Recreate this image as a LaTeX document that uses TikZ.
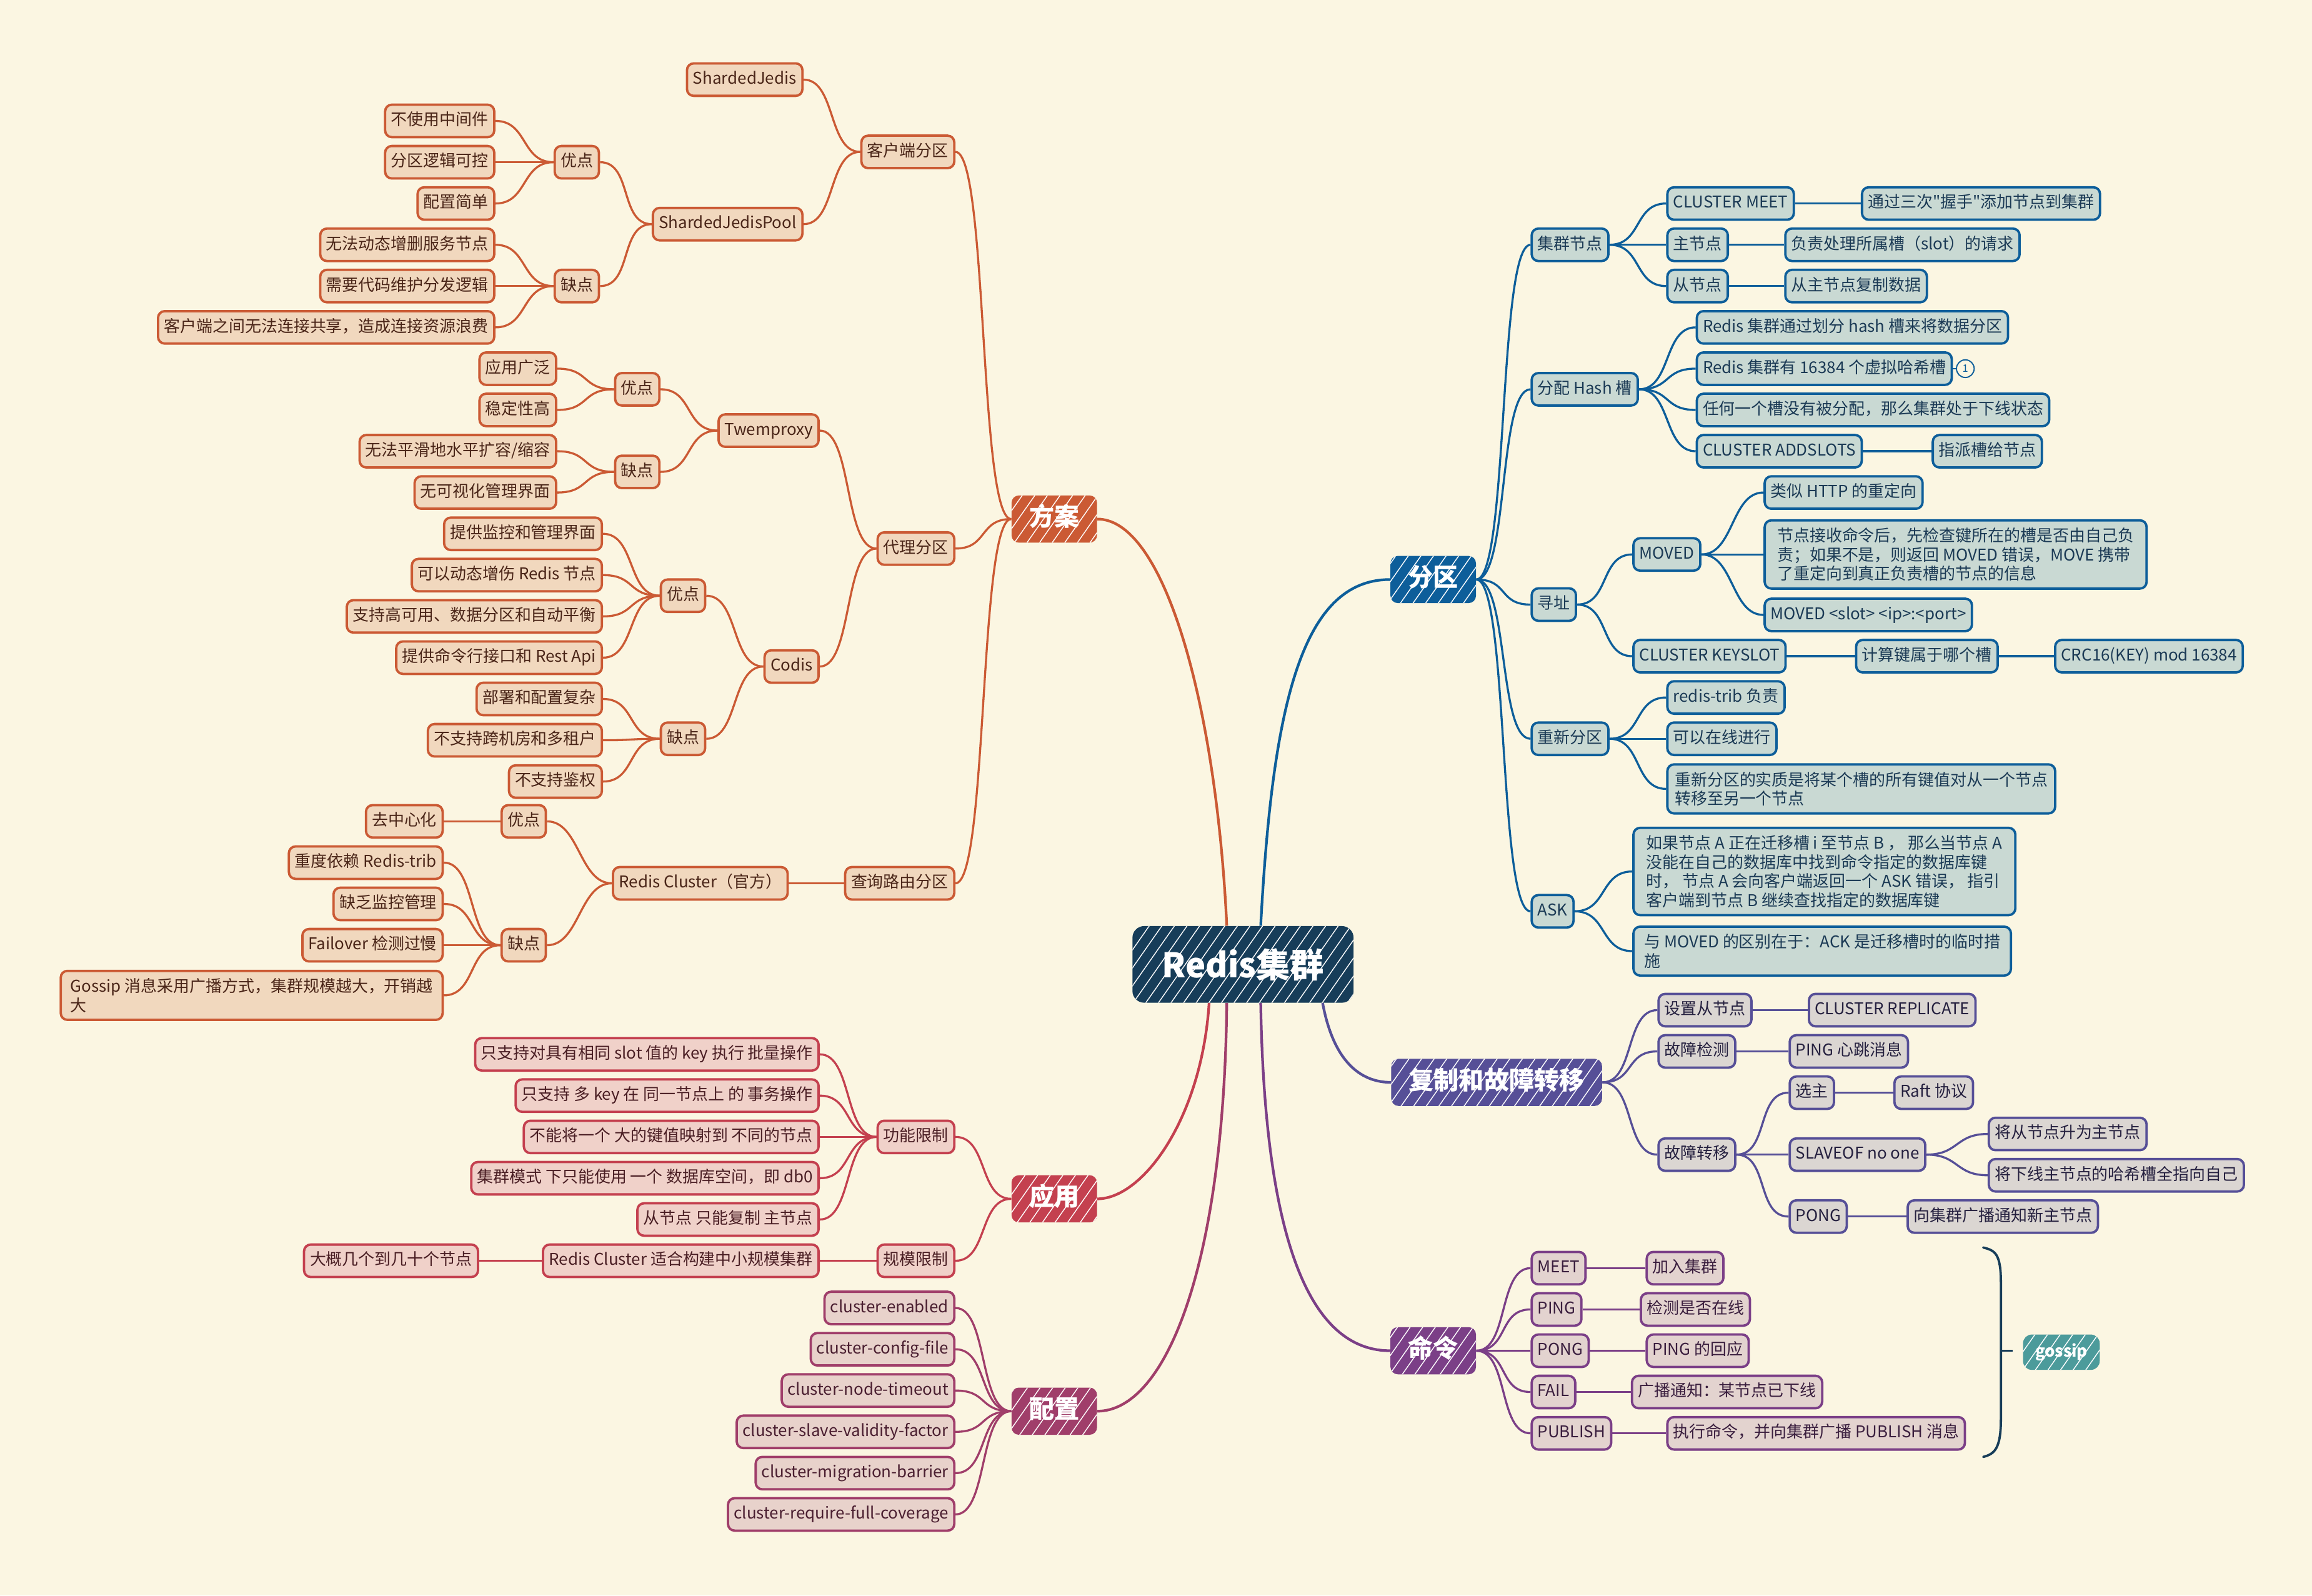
\documentclass[tikz,border=0pt]{standalone}
\usepackage{fontspec}
\setmainfont{Noto Sans CJK SC}
\newfontfamily\rawf{Noto Sans CJK SC}
\usetikzlibrary{patterns.meta}
\pgfdeclarelayer{bgl}
\pgfdeclarelayer{edges}
\pgfsetlayers{bgl,edges,main}
\definecolor{bgc}{HTML}{FBF6E2}
\definecolor{rtC}{HTML}{173D59}
\definecolor{oC}{HTML}{CB5A34}\definecolor{oF}{HTML}{F1D8BE}\definecolor{oT}{HTML}{4A2518}
\definecolor{rC}{HTML}{C4404F}\definecolor{rF}{HTML}{F0D1C9}\definecolor{rT}{HTML}{4A1E24}
\definecolor{pC}{HTML}{A03E6A}\definecolor{pF}{HTML}{E8D2CB}\definecolor{pT}{HTML}{4A1E30}
\definecolor{bC}{HTML}{0D5E9A}\definecolor{bF}{HTML}{C9D9D3}\definecolor{bT}{HTML}{1B3A55}
\definecolor{vC}{HTML}{564F97}\definecolor{vF}{HTML}{DBD6D2}\definecolor{vT}{HTML}{25203F}
\definecolor{mC}{HTML}{7B3F87}\definecolor{mF}{HTML}{E3D3CF}\definecolor{mT}{HTML}{3A1E3E}
\definecolor{gC}{HTML}{4C9B9B}
\newcommand\nf{\fontsize{11}{13}\selectfont}
\newcommand\lnkL[2]{\draw (#1.west) .. controls +(-22,0) and +(22,0) .. (#2.east);}
\newcommand\lnkR[2]{\draw (#1.east) .. controls +(22,0) and +(-22,0) .. (#2.west);}
\tikzset{
  hatch/.style={postaction={pattern={Lines[angle=55,distance=7pt,line width=0.6pt]}, pattern color=white, fill opacity=0.22}},
  bx/.style={draw, line width=1.6pt, rounded corners=4.5pt, inner xsep=4pt, inner ysep=3pt, minimum height=22pt, font=\nf, text height=8.6pt, text depth=2.4pt},
  bxm/.style={draw, line width=1.6pt, rounded corners=4.5pt, inner xsep=4pt, inner ysep=5pt, font=\nf, align=left},
  O/.style={draw=oC, fill=oF, text=oT},
  R/.style={draw=rC, fill=rF, text=rT},
  P/.style={draw=pC, fill=pF, text=pT},
  B/.style={draw=bC, fill=bF, text=bT},
  V/.style={draw=vC, fill=vF, text=vT},
  M/.style={draw=mC, fill=mF, text=mT},
  ol/.style={bx,O,anchor=east},
  rl/.style={bx,R,anchor=east},
  pl/.style={bx,P,anchor=east},
  br/.style={bx,B,anchor=west},
  vr/.style={bx,V,anchor=west},
  mr/.style={bx,M,anchor=west},
  topic/.style={rounded corners=5pt, inner xsep=12pt, inner ysep=0pt, minimum height=32pt, text height=12.5pt, text depth=3pt, text=white, font=\bfseries\fontsize{17}{17}\selectfont, hatch},
  rootn/.style={rounded corners=8pt, fill=rtC, minimum width=150pt, minimum height=52pt, text=white, font=\bfseries\fontsize{23}{23}\selectfont, hatch},
  E/.style={line width=1.4pt},
  EM/.style={line width=1.8pt},
}
\begin{document}
\begin{tikzpicture}[x=1pt,y=-1pt]
\useasboundingbox (0,0) rectangle (1568,1082);
\begin{pgfonlayer}{bgl}
\fill[bgc] (0,0) rectangle (1568,1082);
\end{pgfonlayer}

% root and topics
\node[rootn] (rt) at (843,654) {Redis集群};
\node[topic, fill=oC] (fa) at (715,352) {方案};
\node[topic, fill=rC] (yy) at (715,813) {应用};
\node[topic, fill=pC] (pz) at (715,957) {配置};
\node[topic, fill=bC] (fq) at (972,393) {分区};
\node[topic, fill=vC] (fz) at (1015,734) {复制和故障转移};
\node[topic, fill=mC] (ml) at (972,916) {命令};

% ===== 方案 =====
\node[ol] (kh) at (648,103) {客户端分区};
\node[ol] (sj) at (545,54) {ShardedJedis};
\node[ol] (sjp) at (545,152) {ShardedJedisPool};
\node[ol] (sy) at (407,110) {优点};
\node[ol] (sy1) at (336,82) {不使用中间件};
\node[ol] (sy2) at (336,110) {分区逻辑可控};
\node[ol] (sy3) at (336,138) {配置简单};
\node[ol] (sq) at (407,194) {缺点};
\node[ol] (sq1) at (336,166) {无法动态增删服务节点};
\node[ol] (sq2) at (336,194) {需要代码维护分发逻辑};
\node[ol] (sq3) at (336,222) {客户端之间无法连接共享，造成连接资源浪费};

\node[ol] (dl) at (648,372) {代理分区};
\node[ol] (tw) at (556,292) {Twemproxy};
\node[ol] (ty) at (448,264) {优点};
\node[ol] (ty1) at (378,250) {应用广泛};
\node[ol] (ty2) at (378,278) {稳定性高};
\node[ol] (tq) at (448,320) {缺点};
\node[ol] (tq1) at (378,306) {无法平滑地水平扩容/缩容};
\node[ol] (tq2) at (378,334) {无可视化管理界面};
\node[ol] (cd) at (556,452) {Codis};
\node[ol] (cy) at (479,404) {优点};
\node[ol] (cy1) at (409,362) {提供监控和管理界面};
\node[ol] (cy2) at (409,390) {可以动态增伤 Redis 节点};
\node[ol] (cy3) at (409,418) {支持高可用、数据分区和自动平衡};
\node[ol] (cy4) at (409,446) {提供命令行接口和 Rest Api};
\node[ol] (cq) at (479,501) {缺点};
\node[ol] (cq1) at (409,474) {部署和配置复杂};
\node[ol] (cq2) at (409,502) {不支持跨机房和多租户};
\node[ol] (cq3) at (409,530) {不支持鉴权};

\node[ol] (cx) at (648,599) {查询路由分区};
\node[ol] (rc) at (535,599) {Redis Cluster（官方）};
\node[ol] (ry) at (371,557) {优点};
\node[ol] (ry1) at (301,557) {去中心化};
\node[ol] (rq) at (371,641) {缺点};
\node[ol] (rq1) at (301,585) {重度依赖 Redis-trib};
\node[ol] (rq2) at (301,613) {缺乏监控管理};
\node[ol] (rq3) at (301,641) {Failover 检测过慢};
\node[bxm,O,anchor=east,minimum width=259pt] (rq4) at (301,675) {Gossip 消息采用广播方式，集群规模越大，开销越\\大};

% ===== 应用 =====
\node[rl] (gn) at (648,771) {功能限制};
\node[rl] (gn1) at (556,715) {只支持对具有相同 slot 值的 key 执行 批量操作};
\node[rl] (gn2) at (556,743) {只支持 多 key 在 同一节点上 的 事务操作};
\node[rl] (gn3) at (556,771) {不能将一个 大的键值映射到 不同的节点};
\node[rl] (gn4) at (556,799) {集群模式 下只能使用 一个 数据库空间，即 db0};
\node[rl] (gn5) at (556,827) {从节点 只能复制 主节点};
\node[rl] (gm) at (648,855) {规模限制};
\node[rl] (gm1) at (556,855) {Redis Cluster 适合构建中小规模集群};
\node[rl] (gm2) at (325,855) {大概几个到几十个节点};

% ===== 配置 =====
\node[pl] (pz1) at (648,887) {cluster-enabled};
\node[pl] (pz2) at (648,915) {cluster-config-file};
\node[pl] (pz3) at (648,943) {cluster-node-timeout};
\node[pl] (pz4) at (648,971) {cluster-slave-validity-factor};
\node[pl] (pz5) at (648,999) {cluster-migration-barrier};
\node[pl] (pz6) at (648,1027) {cluster-require-full-coverage};

% ===== 分区 =====
\node[br] (jq) at (1038,166) {集群节点};
\node[br] (jq1) at (1130,138) {CLUSTER MEET};
\node[br] (jq1a) at (1262,138) {通过三次{\rawf "}握手{\rawf "}添加节点到集群};
\node[br] (jq2) at (1130,166) {主节点};
\node[br] (jq2a) at (1210,166) {负责处理所属槽（slot）的请求};
\node[br] (jq3) at (1130,194) {从节点};
\node[br] (jq3a) at (1210,194) {从主节点复制数据};
\node[br] (fp) at (1038,264) {分配 Hash 槽};
\node[br] (fp1) at (1150,222) {Redis 集群通过划分 hash 槽来将数据分区};
\node[br] (fp2) at (1150,250) {Redis 集群有 16384 个虚拟哈希槽};
\node[circle, draw=bC, line width=0.8pt, inner sep=0pt, minimum size=12pt, text=bC, font=\fontsize{7}{7}\selectfont, anchor=west] (n1) at ([xshift=2pt]fp2.east) {1};
\node[br] (fp3) at (1150,278) {任何一个槽没有被分配，那么集群处于下线状态};
\node[br] (fp4) at (1150,306) {CLUSTER ADDSLOTS};
\node[br] (fp4a) at (1310,306) {指派槽给节点};
\node[br] (xz) at (1038,410) {寻址};
\node[br] (mv) at (1107,376) {MOVED};
\node[br] (mv1) at (1196,334) {类似 HTTP 的重定向};
\node[bxm,B,anchor=west,minimum width=259pt] (mv2) at (1196,376) {节点接收命令后，先检查键所在的槽是否由自己负\\责；如果不是，则返回  MOVED 错误，MOVE 携带\\了重定向到真正负责槽的节点的信息};
\node[br] (mv3) at (1196,417) {MOVED <slot> <ip>:<port>};
\node[br] (ks) at (1107,445) {CLUSTER KEYSLOT};
\node[br] (ks1) at (1258,445) {计算键属于哪个槽};
\node[br] (ks2) at (1393,445) {CRC16(KEY) mod 16384};
\node[br] (cf) at (1038,501) {重新分区};
\node[br] (cf1) at (1130,473) {redis-trib 负责};
\node[br] (cf2) at (1130,501) {可以在线进行};
\node[bxm,B,anchor=west,minimum width=263pt] (cf3) at (1130,535) {重新分区的实质是将某个槽的所有键值对从一个节点\\转移至另一个节点};
\node[br] (ask) at (1038,618) {ASK};
\node[bxm,B,anchor=west,minimum width=259pt] (ask1) at (1107,591) {如果节点 A 正在迁移槽 i 至节点 B ， 那么当节点 A\\没能在自己的数据库中找到命令指定的数据库键\\时， 节点 A 会向客户端返回一个 ASK 错误， 指引\\客户端到节点 B 继续查找指定的数据库键};
\node[bxm,B,anchor=west,minimum width=256pt] (ask2) at (1107,645) {与 MOVED 的区别在于：ACK 是迁移槽时的临时措\\施};

% ===== 复制和故障转移 =====
\node[vr] (sz) at (1124,685) {设置从节点};
\node[vr] (sz1) at (1226,685) {CLUSTER REPLICATE};
\node[vr] (gz) at (1124,713) {故障检测};
\node[vr] (gz1) at (1213,713) {PING 心跳消息};
\node[vr] (gy) at (1124,783) {故障转移};
\node[vr] (xs) at (1213,741) {选主};
\node[vr] (xs1) at (1284,741) {Raft 协议};
\node[vr] (so) at (1213,783) {SLAVEOF no one};
\node[vr] (so1) at (1348,769) {将从节点升为主节点};
\node[vr] (so2) at (1348,797) {将下线主节点的哈希槽全指向自己};
\node[vr] (pg) at (1213,825) {PONG};
\node[vr] (pg1) at (1293,825) {向集群广播通知新主节点};

% ===== 命令 =====
\node[mr] (m1) at (1038,860) {MEET};
\node[mr] (m1a) at (1116,860) {加入集群};
\node[mr] (m2) at (1038,888) {PING};
\node[mr] (m2a) at (1112,888) {检测是否在线};
\node[mr] (m3) at (1038,916) {PONG};
\node[mr] (m3a) at (1116,916) {PING 的回应};
\node[mr] (m4) at (1038,944) {FAIL};
\node[mr] (m4a) at (1106,944) {广播通知：某节点已下线};
\node[mr] (m5) at (1038,972) {PUBLISH};
\node[mr] (m5a) at (1130,972) {执行命令，并向集群广播 PUBLISH 消息};

% gossip
\node[fill=gC, rounded corners=6pt, minimum width=52pt, minimum height=24pt, text=white, font=\bfseries\nf, hatch] (gs) at (1398,917) {gossip};
\coordinate (bt) at (1345,846);
\coordinate (bb) at (1345,988);
\coordinate (bm) at (1357,916);
\coordinate (bk) at (1365,916);
\draw[rtC, line width=1.6pt, line cap=round] (bt) .. controls +(8,2) and +(0,-20) .. (1357,870) -- (1357,962) .. controls +(0,20) and +(8,-2) .. (bb);
\draw[rtC, line width=1.6pt] (bm) -- (bk);

% ===== edges =====
\begin{pgfonlayer}{edges}
\draw[oC, EM] ([xshift=-11pt]rt.north) .. controls +(-7,-148) and +(46,0) .. (fa.east);
\draw[bC, EM] ([xshift=12pt]rt.north) .. controls +(8,-150) and +(-60,0) .. (fq.west);
\draw[rC, EM] ([xshift=-23pt]rt.south) .. controls +(-5,78) and +(31,0) .. (yy.east);
\draw[pC, EM] ([xshift=-11pt]rt.south) .. controls +(-2,180) and +(46,0) .. (pz.east);
\draw[mC, EM] ([xshift=12pt]rt.south) .. controls +(3,178) and +(-48,0) .. (ml.west);
\draw[vC, EM] ([xshift=54pt]rt.south) .. controls +(8,43) and +(-18,0) .. (fz.west);
\begin{scope}[oC, E]
\lnkL{fa}{kh}\lnkL{fa}{dl}\lnkL{fa}{cx}
\lnkL{kh}{sj}\lnkL{kh}{sjp}
\lnkL{sjp}{sy}\lnkL{sjp}{sq}
\lnkL{sy}{sy1}\lnkL{sy}{sy2}\lnkL{sy}{sy3}
\lnkL{sq}{sq1}\lnkL{sq}{sq2}\lnkL{sq}{sq3}
\lnkL{dl}{tw}\lnkL{dl}{cd}
\lnkL{tw}{ty}\lnkL{tw}{tq}
\lnkL{ty}{ty1}\lnkL{ty}{ty2}\lnkL{tq}{tq1}\lnkL{tq}{tq2}
\lnkL{cd}{cy}\lnkL{cd}{cq}
\lnkL{cy}{cy1}\lnkL{cy}{cy2}\lnkL{cy}{cy3}\lnkL{cy}{cy4}
\lnkL{cq}{cq1}\lnkL{cq}{cq2}\lnkL{cq}{cq3}
\lnkL{cx}{rc}
\lnkL{rc}{ry}\lnkL{rc}{rq}
\lnkL{ry}{ry1}
\lnkL{rq}{rq1}\lnkL{rq}{rq2}\lnkL{rq}{rq3}\lnkL{rq}{rq4}
\end{scope}
\begin{scope}[rC, E]
\lnkL{yy}{gn}\lnkL{yy}{gm}
\lnkL{gn}{gn1}\lnkL{gn}{gn2}\lnkL{gn}{gn3}\lnkL{gn}{gn4}\lnkL{gn}{gn5}
\lnkL{gm}{gm1}\lnkL{gm1}{gm2}
\end{scope}
\begin{scope}[pC, E]
\lnkL{pz}{pz1}\lnkL{pz}{pz2}\lnkL{pz}{pz3}\lnkL{pz}{pz4}\lnkL{pz}{pz5}\lnkL{pz}{pz6}
\end{scope}
\begin{scope}[bC, E]
\lnkR{fq}{jq}\lnkR{fq}{fp}\lnkR{fq}{xz}\lnkR{fq}{cf}\lnkR{fq}{ask}
\lnkR{jq}{jq1}\lnkR{jq}{jq2}\lnkR{jq}{jq3}
\lnkR{jq1}{jq1a}\lnkR{jq2}{jq2a}\lnkR{jq3}{jq3a}
\lnkR{fp}{fp1}\lnkR{fp}{fp2}\lnkR{fp}{fp3}\lnkR{fp}{fp4}
\lnkR{fp4}{fp4a}
\draw[line width=0.8pt] (fp2.east) -- (n1.west);
\lnkR{xz}{mv}\lnkR{xz}{ks}
\lnkR{mv}{mv1}\lnkR{mv}{mv2}\lnkR{mv}{mv3}
\lnkR{ks}{ks1}\lnkR{ks1}{ks2}
\lnkR{cf}{cf1}\lnkR{cf}{cf2}\lnkR{cf}{cf3}
\lnkR{ask}{ask1}\lnkR{ask}{ask2}
\end{scope}
\begin{scope}[vC, E]
\lnkR{fz}{sz}\lnkR{fz}{gz}\lnkR{fz}{gy}
\lnkR{sz}{sz1}\lnkR{gz}{gz1}
\lnkR{gy}{xs}\lnkR{gy}{so}\lnkR{gy}{pg}
\lnkR{xs}{xs1}\lnkR{so}{so1}\lnkR{so}{so2}\lnkR{pg}{pg1}
\end{scope}
\begin{scope}[mC, E]
\lnkR{ml}{m1}\lnkR{ml}{m2}\lnkR{ml}{m3}\lnkR{ml}{m4}\lnkR{ml}{m5}
\lnkR{m1}{m1a}\lnkR{m2}{m2a}\lnkR{m3}{m3a}\lnkR{m4}{m4a}\lnkR{m5}{m5a}
\end{scope}
\end{pgfonlayer}
\end{tikzpicture}
\end{document}
